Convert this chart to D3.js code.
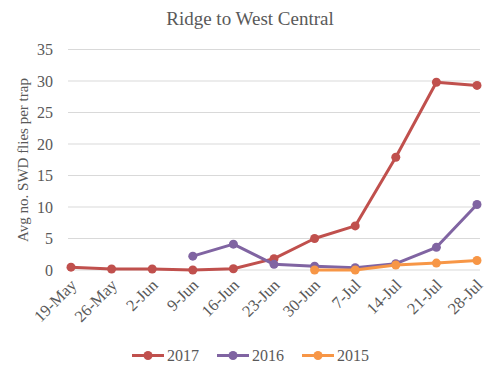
<!DOCTYPE html>
<html><head><meta charset="utf-8">
<script src="https://cdn.jsdelivr.net/npm/d3@7"></script>
<style>body{margin:0;background:#fff}</style>
</head><body><svg id="c" width="500" height="370"></svg>
<script>
const categories = ["19-May","26-May","2-Jun","9-Jun","16-Jun","23-Jun","30-Jun","7-Jul","14-Jul","21-Jul","28-Jul"];
const s2017 = [0.45,0.15,0.15,0.0,0.2,1.8,5.0,7.0,17.9,29.8,29.3];
const s2016 = [null,null,null,2.2,4.1,0.9,0.6,0.35,1.0,3.6,10.4];
const s2015 = [null,null,null,null,null,null,0.0,0.0,0.8,1.1,1.5];
const yTicks = [0,5,10,15,20,25,30,35];
const seriesNames = ["2017","2016","2015"];
const colors = ["#C0504D","#8064A2","#F79646"];
const series = [s2017,s2016,s2015];

const svg = d3.select("#c");
const font = "'Liberation Serif', 'DejaVu Serif', serif";
const x = d3.scalePoint().domain(categories).range([71,477]);
const y = d3.scaleLinear().domain([0,35]).range([270,49.5]);

svg.append("text").attr("x",250).attr("y",25).attr("text-anchor","middle")
  .style("font-family",font).attr("font-size",19).attr("fill","#595959").text("Ridge to West Central");

// gridlines
svg.append("g").selectAll("line").data(yTicks).join("line")
  .attr("x1",68).attr("x2",480).attr("y1",d=>y(d)).attr("y2",d=>y(d))
  .attr("stroke","#d9d9d9").attr("stroke-width",1);

const yAxis = svg.append("g").attr("transform","translate(68,0)")
  .call(d3.axisLeft(y).tickValues(yTicks).tickSize(0).tickPadding(15));
yAxis.attr("font-family",null).style("font-family",font);
yAxis.select(".domain").remove();
yAxis.selectAll("text").style("font-family",font).attr("font-size",16).attr("fill","#595959");

const xAxis = svg.append("g").attr("transform","translate(0,270)")
  .call(d3.axisBottom(x).tickSize(0));
xAxis.attr("font-family",null).style("font-family",font);
xAxis.select(".domain").remove();
xAxis.selectAll("text").style("font-family",font).attr("font-size",16.5).attr("fill","#595959")
  .attr("text-anchor","end").attr("y",0).attr("dy","0.35em").attr("transform","translate(2,12) rotate(-45)");

svg.append("text").attr("transform","translate(28,160) rotate(-90)").attr("text-anchor","middle")
  .style("font-family",font).attr("font-size",15).attr("fill","#595959").text("Avg no. SWD flies per trap");

const line = d3.line().defined(d=>d[1]!=null).x(d=>x(d[0])).y(d=>y(d[1]));
series.forEach((s,i)=>{
  const pts = categories.map((c,j)=>[c,s[j]]);
  svg.append("path").attr("d",line(pts)).attr("fill","none").attr("stroke",colors[i])
    .attr("stroke-width",3).attr("stroke-linejoin","round");
  svg.append("g").selectAll("circle").data(pts.filter(p=>p[1]!=null)).join("circle")
    .attr("cx",p=>x(p[0])).attr("cy",p=>y(p[1])).attr("r",4.5).attr("fill",colors[i]);
});

// legend
const lx = [132,217,302];
seriesNames.forEach((n,i)=>{
  const g = svg.append("g").attr("transform",`translate(${lx[i]},355.5)`);
  g.append("line").attr("x1",0).attr("x2",32).attr("stroke",colors[i]).attr("stroke-width",3);
  g.append("circle").attr("cx",16).attr("r",4.5).attr("fill",colors[i]);
  g.append("text").attr("x",35).attr("y",5.5).style("font-family",font).attr("font-size",16).attr("fill","#595959").text(n);
});
</script></body></html>
